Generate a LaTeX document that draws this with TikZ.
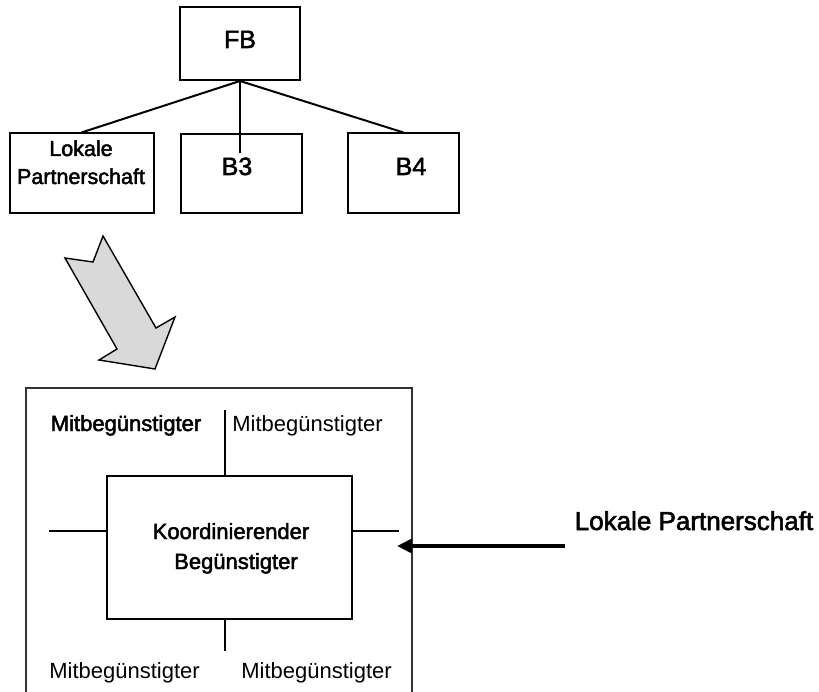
\documentclass[tikz,border=0pt]{standalone}
\usepackage{fontspec}
\setmainfont{Liberation Sans}
\newfontfamily\heavyfont{Liberation Sans}[FakeBold=2.2]
\usepackage{xcolor}
\definecolor{ArrowGray}{rgb}{0.85, 0.85, 0.85}
\usetikzlibrary{arrows.meta}

\begin{document}
\begin{tikzpicture}[x=1pt, y=-1pt,
    box/.style = {draw, line width=2pt, inner sep=0pt},
    link/.style = {line width=2pt},
    bigtext/.style = {font=\heavyfont\fontsize{25}{28}\selectfont, inner sep=0pt, anchor=base},
    midtext/.style = {font=\fontsize{22}{28}\selectfont, inner sep=0pt, anchor=base, align=center},
    heavytext/.style = {midtext, font=\heavyfont\fontsize{22}{28}\selectfont}]
    \useasboundingbox (0,0) rectangle (819,692);

    \node[box, minimum width=120pt, minimum height=73pt] (fb) at (240,43.5) {};
    \node[box, minimum width=144pt, minimum height=80pt] (lp) at (81.5,173.5) {};
    \node[box, minimum width=121pt, minimum height=79pt] (b3) at (241,174) {};
    \node[box, minimum width=111pt, minimum height=80pt] (b4) at (403.5,173.5) {};

    \node[bigtext] (fblabel) at (240,48) {FB};
    \node[bigtext] (b3label) at (237,175) {B3};
    \node[bigtext] (b4label) at (411,175) {B4};
    \node[heavytext, font=\heavyfont\fontsize{21.5}{28}\selectfont] (lplabel) at (81,184) {Lokale\\Partnerschaft};

    \coordinate (b3end) at (240,153);
    \draw[link] (fb.south) -- (lp.north);
    \draw[link] (fb.south) -- (b3end);
    \draw[link] (fb.south) -- (b4.north);

    \draw[line width=1.4pt, fill=ArrowGray] (103,236) -- (93,262) -- (65,258) -- (117,349)
        -- (99,360) -- (155,369) -- (175,317) -- (156,328) -- cycle;

    \draw[line width=1.8pt, draw=black!80] (26,692) |- (412,388) -- (412,692);

    \node[box, minimum width=245pt, minimum height=143pt] (kb) at (229.5,547.5) {};
    \node[heavytext] (kbtop) at (231,539) {Koordinierender};
    \node[heavytext] (kbbot) at (236,569) {Begünstigter};

    \coordinate (tp) at (225,410);
    \coordinate (lf) at (49,531);
    \coordinate (rt) at (399,531);
    \coordinate (bt) at (225,651);
    \draw[link] (tp) -- (tp |- kb.north);
    \draw[link] (lf) -- (lf -| kb.west);
    \draw[link] (rt) -- (rt -| kb.east);
    \draw[link] (bt) -- (bt |- kb.south);

    \node[heavytext] (mtl) at (126,431) {Mitbegünstigter};
    \node[midtext] (mtr) at (307.5,431) {Mitbegünstigter};
    \node[midtext] (mbl) at (124.5,678) {Mitbegünstigter};
    \node[midtext] (mbr) at (316.5,678) {Mitbegünstigter};

    \node[bigtext, font=\heavyfont\fontsize{26}{28}\selectfont] (partner) at (694,530) {Lokale Partnerschaft};
    \coordinate (src) at (565,546);
    \coordinate (dst) at (397,546);
    \draw[-{Triangle[length=15pt, width=14pt]}, line width=4.5pt] (src) -- (dst);
\end{tikzpicture}
\end{document}
